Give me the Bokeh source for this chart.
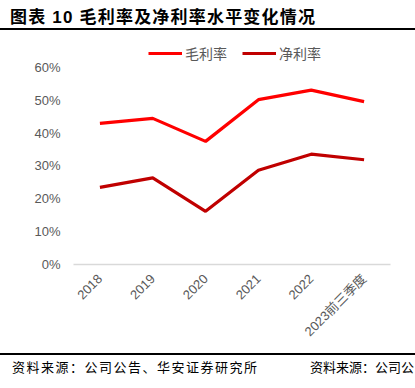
from bokeh.plotting import figure
from bokeh.models import (Legend, LegendItem, FactorRange, Range1d,
                          NumeralTickFormatter, FixedTicker, Div)
from bokeh.layouts import column
from bokeh.embed import file_html
from bokeh.resources import INLINE
from math import pi

categories = ["2018", "2019", "2020", "2021", "2022", "2023前三季度"]
gross_margin = [0.430, 0.445, 0.375, 0.502, 0.531, 0.496]
net_margin = [0.235, 0.264, 0.162, 0.287, 0.336, 0.319]
y_ticks = [0.0, 0.1, 0.2, 0.3, 0.4, 0.5, 0.6]
series_names = ["毛利率", "净利率"]
title_text = "图表 10 毛利率及净利率水平变化情况"
source_text = "资料来源：公司公告、华安证券研究所"
source_text2 = "资料来源：公司公"

FONT = "Liberation Sans, Noto Sans CJK SC"
GRAY = "#595959"
W = 415

title_div = Div(
    text=(f'<div style="box-sizing:border-box;width:{W}px;height:30px;'
          'padding:8px 0 0 10px;border-bottom:2px solid #000;'
          "font-family:'Liberation Sans','Noto Sans CJK SC';font-weight:bold;"
          'font-size:17px;line-height:20px;letter-spacing:1.2px;color:#000;'
          f'white-space:nowrap;">{title_text}</div>'),
    width=W, height=30, margin=0)

# frame spans page y 36..264; 0.6 sits at y 67, headroom above holds the legend
p = figure(width=W, height=323,
           x_range=FactorRange(*categories, range_padding=0),
           y_range=Range1d(0, 0.6944),
           output_backend="svg", toolbar_location=None,
           min_border_left=73, min_border_right=25,
           min_border_top=6, min_border_bottom=89, margin=0)
p.outline_line_color = None
p.grid.grid_line_color = None

r1 = p.line(categories, gross_margin, line_color="#FF0000", line_width=3.2)
r2 = p.line(categories, net_margin, line_color="#C00000", line_width=3.2)

# y axis
p.yaxis.ticker = FixedTicker(ticks=y_ticks)
p.yaxis.formatter = NumeralTickFormatter(format="0%")
p.yaxis.axis_line_color = None
p.yaxis.major_tick_line_color = None
p.yaxis.minor_tick_line_color = None
p.yaxis.major_tick_out = 0
p.yaxis.major_label_standoff = 13
p.yaxis.major_label_text_color = GRAY
p.yaxis.major_label_text_font = FONT
p.yaxis.major_label_text_font_size = "13px"

# x axis
p.xaxis.axis_line_color = "#d9d9d9"
p.xaxis.axis_line_width = 1.5
p.xaxis.major_tick_line_color = None
p.xaxis.minor_tick_line_color = None
p.xaxis.major_tick_out = 0
p.xaxis.major_label_orientation = pi / 4
p.xaxis.major_label_standoff = 12
p.xaxis.major_label_text_color = GRAY
p.xaxis.major_label_text_font = FONT
p.xaxis.major_label_text_font_size = "13px"

legend = Legend(items=[LegendItem(label=series_names[0], renderers=[r1]),
                       LegendItem(label=series_names[1], renderers=[r2])],
                orientation="horizontal", location=(75, 201),
                padding=0, margin=0, spacing=15, glyph_width=34,
                label_standoff=3, border_line_color=None,
                background_fill_alpha=0,
                label_text_color=GRAY, label_text_font=FONT,
                label_text_font_size="14px")
p.add_layout(legend, "center")

source_div = Div(
    text=(f'<div style="position:relative;box-sizing:border-box;width:{W}px;height:26px;'
          'border-top:2px solid #000;font-family:\'Noto Sans CJK SC\';'
          'font-size:13px;line-height:20px;color:#000;white-space:nowrap;">'
          f'<span style="position:absolute;left:12px;top:2px;letter-spacing:1.5px;">{source_text}</span>'
          f'<span style="position:absolute;left:310px;top:2px;">{source_text2}</span>'
          '</div>'),
    width=W, height=26, margin=0)

layout = column(title_div, p, source_div, spacing=0)

open("out.html", "w").write(file_html(layout, INLINE))
